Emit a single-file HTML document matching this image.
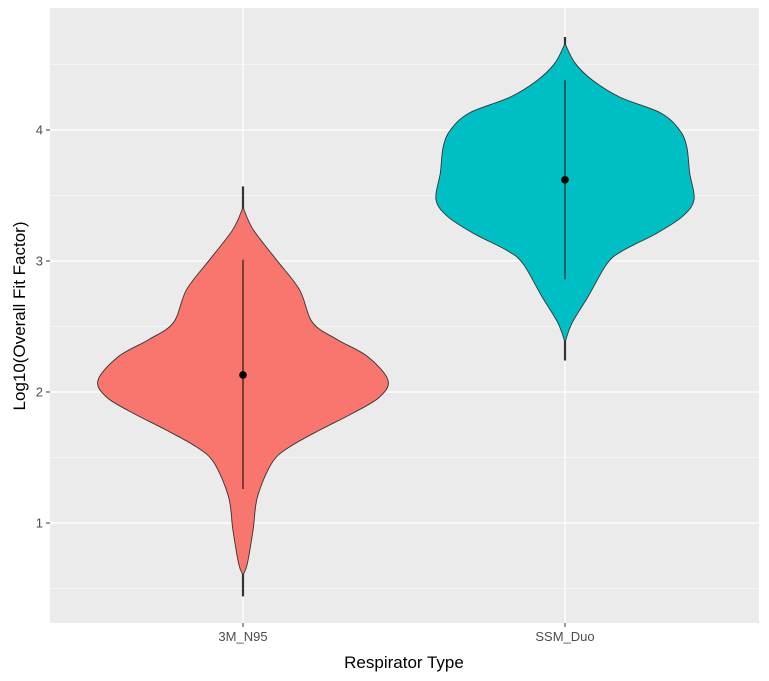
<!DOCTYPE html>
<html><head><meta charset="utf-8"><style>
html,body{margin:0;padding:0;background:#fff;}
svg{display:block;font-family:"Liberation Sans",Arial,sans-serif;}
</style></head><body>
<svg id="chart" width="769" height="681" viewBox="0 0 769 681">
<rect x="0" y="0" width="769" height="681" fill="#fff"/>
<rect x="50" y="8" width="709" height="615" fill="#EBEBEB"/>
<g id="grid"></g><g id="marks"></g><g id="axes"></g>
<text x="404" y="668" text-anchor="middle" font-size="17" fill="#000">Respirator Type</text>
<text transform="translate(25,316) rotate(-90)" text-anchor="middle" font-size="17" fill="#000">Log10(Overall Fit Factor)</text>
</svg>
<script>
const categories = ["3M_N95","SSM_Duo"];
const colors = ["#F8766D","#00BFC4"];
const yTicks = [1,2,3,4];
const yMinor = [0.5,1.5,2.5,3.5,4.5];
const redDensityY = [3.41,3.24,3.01,2.78,2.53,2.40,2.27,2.09,1.96,1.84,1.71,1.58,1.46,1.20,0.95,0.69,0.60];
const redWidth =    [0,0.07,0.23,0.39,0.48,0.65,0.86,1.0,0.94,0.76,0.53,0.32,0.20,0.10,0.07,0.03,0];
const blueDensityY = [4.66,4.51,4.38,4.25,4.13,4.00,3.87,3.67,3.47,3.34,3.21,3.08,2.98,2.73,2.53,2.38];
const blueWidth =    [0,0.07,0.19,0.38,0.66,0.79,0.84,0.86,0.89,0.81,0.63,0.40,0.29,0.16,0.05,0];
const rangeMin = [0.44,2.24];
const rangeMax = [3.57,4.71];
const sdLow = [1.26,2.86];
const sdHigh = [3.01,4.38];
const means = [2.13,3.62];

const NS="http://www.w3.org/2000/svg";
const yScale = v => 523 - (v-1)*131;
const xScale = i => 243 + i*322;
const halfMax = 145;
function mk(tag, attrs, parent){const e=document.createElementNS(NS,tag);for(const k in attrs)e.setAttribute(k,attrs[k]);parent.appendChild(e);return e;}
const grid=document.getElementById('grid'), marks=document.getElementById('marks'), axes=document.getElementById('axes');
yMinor.forEach(v=>{const l=mk('line',{x1:50,x2:759,y1:yScale(v),y2:yScale(v),stroke:'#fff','stroke-width':0.6},grid);

});
yTicks.forEach(v=>{const l=mk('line',{x1:50,x2:759,y1:yScale(v),y2:yScale(v),stroke:'#fff','stroke-width':1.2},grid);


const tk=mk('line',{x1:46,x2:50,y1:yScale(v),y2:yScale(v),stroke:'#333','stroke-width':1},axes);


const t=mk('text',{x:43,y:yScale(v)+4.5,'text-anchor':'end','font-size':13,fill:'#4D4D4D'},axes);t.textContent=v;

});
categories.forEach((c,i)=>{const l=mk('line',{x1:xScale(i),x2:xScale(i),y1:8,y2:623,stroke:'#fff','stroke-width':1.2},grid);


const tk=mk('line',{x1:xScale(i),x2:xScale(i),y1:623,y2:627,stroke:'#333','stroke-width':1},axes);


const t=mk('text',{x:xScale(i),y:641,'text-anchor':'middle','font-size':13,fill:'#4D4D4D'},axes);t.textContent=c;

});
function spline(pts){let d='M'+pts[0][0]+','+pts[0][1];
for(let i=0;i<pts.length-1;i++){const p0=pts[Math.max(i-1,0)],p1=pts[i],p2=pts[i+1],p3=pts[Math.min(i+2,pts.length-1)];
const c1=[p1[0]+(p2[0]-p0[0])/6,p1[1]+(p2[1]-p0[1])/6],c2=[p2[0]-(p3[0]-p1[0])/6,p2[1]-(p3[1]-p1[1])/6];
d+=' C'+c1[0]+','+c1[1]+' '+c2[0]+','+c2[1]+' '+p2[0]+','+p2[1];}return d;}
const dens=[[redDensityY,redWidth],[blueDensityY,blueWidth]];
categories.forEach((c,i)=>{const cx=xScale(i);
const r=mk('line',{x1:cx,x2:cx,y1:yScale(rangeMax[i]),y2:yScale(rangeMin[i]),stroke:'#333','stroke-width':2.2},marks);


const [ys,ws]=dens[i];
const right=ys.map((v,k)=>[cx+ws[k]*halfMax,yScale(v)]);
const left=ys.map((v,k)=>[cx-ws[k]*halfMax,yScale(v)]).reverse();
const d=spline(right)+' '+spline(left).replace('M','L')+' Z';
const p=mk('path',{d:d,fill:colors[i],stroke:'#333','stroke-width':0.9},marks);


const s=mk('line',{x1:cx,x2:cx,y1:yScale(sdHigh[i]),y2:yScale(sdLow[i]),stroke:'#000','stroke-width':1},marks);


const m=mk('circle',{cx:cx,cy:yScale(means[i]),r:3.8,fill:'#000'},marks);

});
</script>
</body></html>
